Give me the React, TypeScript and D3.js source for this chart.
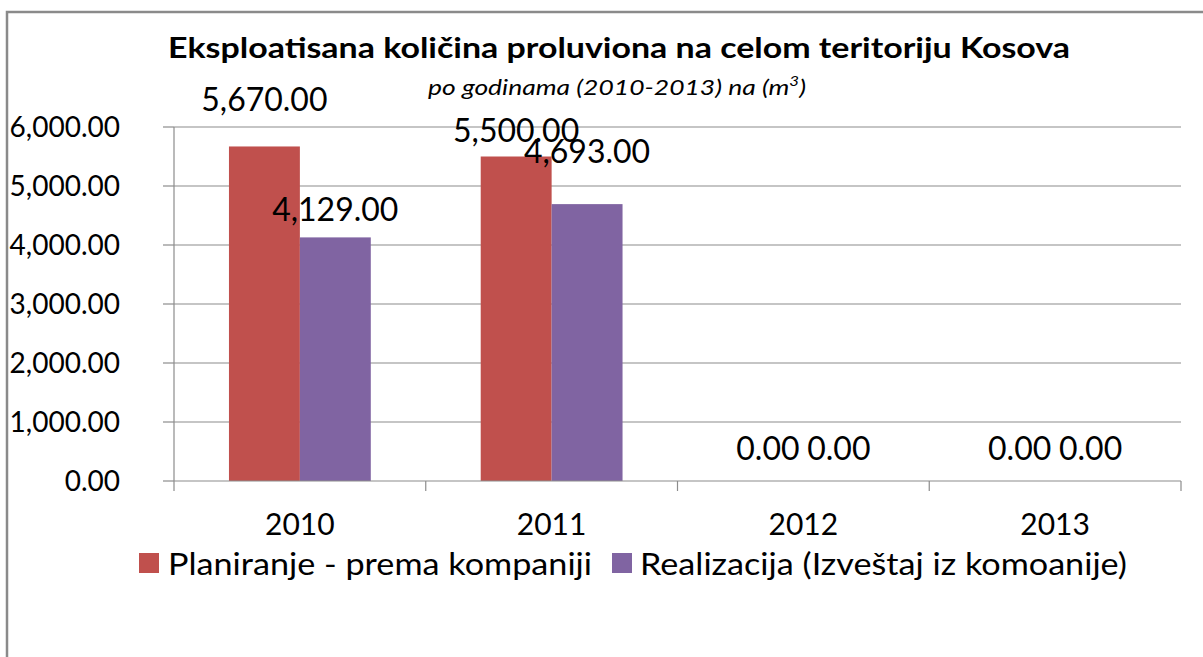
import React from "react";
import * as d3 from "d3";

const years = ["2010", "2011", "2012", "2013"];
const seriesNames = ["Planiranje - prema kompaniji", "Realizacija (Izveštaj iz komoanije)"];
const planiranje = [5670, 5500, 0, 0];
const realizacija = [4129, 4693, 0, 0];
const yTicks = [0, 1000, 2000, 3000, 4000, 5000, 6000];

// label vertical offsets (px above bar top), per series / per category
const labelOffsets = [
  [47, 26, 32, 32],
  [28, 52, 32, 32],
];

const colors = ["#C0504D", "#8064A2"];
const FONT = "Lato, 'Open Sans', sans-serif";

export default function App() {
  const W = 1203, H = 657;
  const left = 174, right = 1181, top = 127, bottom = 481;
  const x = d3.scaleBand<string>().domain(years).range([left, right]).paddingInner(0).paddingOuter(0);
  const inner = d3.scaleBand<number>().domain([0, 1]).range([0, x.bandwidth()]).paddingInner(0).paddingOuter(0.775);
  const y = d3.scaleLinear().domain([0, 6000]).range([bottom, top]);
  const fmt = d3.format(",.2f");
  const series = [planiranje, realizacija];

  return (
    <svg width={W} height={H} style={{ position: "absolute", left: 0, top: 0, background: "#fff" }}>
      <rect x={0} y={0} width={W} height={H} fill="#fff" />
      <rect x={7} y={12} width={1215} height={670} fill="none" stroke="#8a8a8a" strokeWidth={2.5} />
      <text x={168} y={58} textLength={902} lengthAdjust="spacingAndGlyphs" fontFamily={FONT} fontWeight="bold" fontSize={29} fill="#000">
        Eksploatisana količina proluviona na celom teritoriju Kosova
      </text>
      <text x={428} y={95} textLength={378} lengthAdjust="spacingAndGlyphs" fontFamily={FONT} fontStyle="italic" fontSize={22} fill="#000">
        po godinama (2010-2013) na (m<tspan dy={-9} fontSize={14}>3</tspan><tspan dy={9}>)</tspan>
      </text>
      {/* gridlines */}
      {yTicks.map((t) => (
        <g key={t}>
          {t > 0 && <line x1={left} x2={right} y1={y(t)} y2={y(t)} stroke="#8c8c8c" strokeWidth={1.2} />}
          <line x1={left - 11} x2={left} y1={y(t)} y2={y(t)} stroke="#8c8c8c" strokeWidth={1.2} />
          <text x={120} y={y(t)} dy="0.35em" textAnchor="end" fontFamily={FONT} fontSize={28} fill="#000">
            {fmt(t)}
          </text>
        </g>
      ))}
      {/* bars */}
      {series.map((s, si) =>
        s.map((v, ci) => (
          <rect
            key={`${si}-${ci}`}
            x={(x(years[ci]) as number) + (inner(si) as number)}
            y={y(v)}
            width={inner.bandwidth()}
            height={bottom - y(v)}
            fill={colors[si]}
          />
        ))
      )}
      {/* axes */}
      <line x1={left} x2={left} y1={top} y2={bottom + 10} stroke="#8c8c8c" strokeWidth={1.2} />
      <line x1={left} x2={right} y1={bottom} y2={bottom} stroke="#8c8c8c" strokeWidth={1.2} />
      {years.map((yr) => (
        <line key={yr} x1={(x(yr) as number) + x.bandwidth()} x2={(x(yr) as number) + x.bandwidth()} y1={bottom} y2={bottom + 10} stroke="#8c8c8c" strokeWidth={1.2} />
      ))}
      {years.map((yr) => (
        <text key={yr} x={(x(yr) as number) + x.bandwidth() / 2} y={524} dy="0.35em" textAnchor="middle" fontFamily={FONT} fontSize={30} fill="#000">
          {yr}
        </text>
      ))}
      {/* data labels */}
      {series.map((s, si) =>
        s.map((v, ci) => (
          <text
            key={`l${si}-${ci}`}
            x={(x(years[ci]) as number) + (inner(si) as number) + inner.bandwidth() / 2}
            y={y(v) - labelOffsets[si][ci]}
            dy="0.35em"
            textAnchor="middle"
            fontFamily={FONT}
            fontSize={32}
            fill="#000"
          >
            {fmt(v)}
          </text>
        ))
      )}
      {/* legend */}
      <rect x={139} y={553} width={20} height={20} fill={colors[0]} />
      <text x={168} y={564} dy="0.35em" textLength={424} lengthAdjust="spacingAndGlyphs" fontFamily={FONT} fontSize={30} fill="#000">{seriesNames[0]}</text>
      <rect x={612} y={553} width={20} height={20} fill={colors[1]} />
      <text x={640} y={564} dy="0.35em" textLength={487} lengthAdjust="spacingAndGlyphs" fontFamily={FONT} fontSize={30} fill="#000">{seriesNames[1]}</text>
    </svg>
  );
}
